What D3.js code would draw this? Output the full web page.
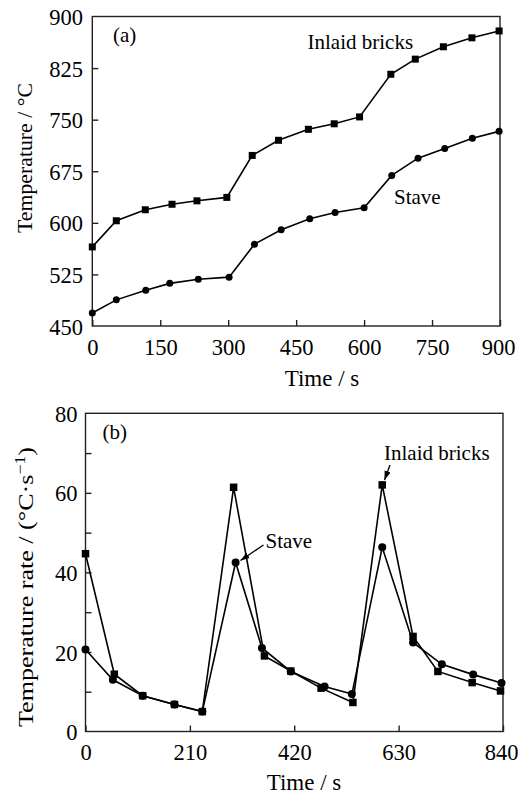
<!DOCTYPE html>
<html><head><meta charset="utf-8">
<script src="https://cdn.jsdelivr.net/npm/d3@7"></script>
<style>body{margin:0;background:#fff}svg{display:block}text{font-family:"Liberation Serif","DejaVu Serif",serif;fill:#000}</style>
</head><body>
<svg id="c" width="518" height="796"></svg>
<script>
// ---- Chart (a): temperature vs time ----
const aBricksTime = [0, 53, 117, 176, 231, 297, 353, 411, 477, 534, 590, 659, 713, 775, 838, 898];
const aBricksTemp = [565, 603, 619, 627, 632, 637, 698, 720, 736, 744, 754, 816, 838, 856, 869, 879];
const aStaveTime  = [0, 53, 118, 171, 234, 302, 358, 417, 480, 536, 600, 661, 719, 778, 839, 898];
const aStaveTemp  = [469, 488, 502, 512, 518, 521, 569, 590, 606, 615, 622, 669, 694, 708, 723, 733];
const aXTicks = [0, 150, 300, 450, 600, 750, 900];
const aYTicks = [450, 525, 600, 675, 750, 825, 900];

// ---- Chart (b): temperature rate vs time ----
const bBricksTime = [0, 58, 115, 179, 235, 298, 360, 413, 474, 538, 597, 659, 709, 778, 835];
const bBricksRate = [44.7, 14.4, 9.0, 6.8, 5.0, 61.4, 19.0, 15.2, 10.9, 7.3, 62.0, 23.9, 15.1, 12.3, 10.2];
const bStaveTime  = [0, 55, 115, 179, 235, 302, 355, 413, 481, 536, 597, 659, 717, 780, 837];
const bStaveRate  = [20.6, 13.0, 9.0, 6.8, 5.0, 42.5, 21.0, 15.1, 11.3, 9.4, 46.3, 22.4, 16.9, 14.3, 12.2];
const bXTicks = [0, 210, 420, 630, 840];
const bYLabels = [0, 20, 40, 60, 80];
const bYTicks = [0, 10, 20, 30, 40, 50, 60, 70, 80];

const svg = d3.select("#c");
const defs = svg.append("defs");
defs.append("marker").attr("id","ah").attr("viewBox","0 0 10 10").attr("refX",10).attr("refY",5)
  .attr("markerWidth",7).attr("markerHeight",7).attr("orient","auto")
  .append("path").attr("d","M0,1.5L10,5L0,8.5Z").attr("fill","#000");

function panel(o){
  const g = svg.append("g");
  const x = d3.scaleLinear().domain(o.xd).range(o.xr);
  const y = d3.scaleLinear().domain(o.yd).range(o.yr);
  g.append("rect").attr("x",o.xr[0]).attr("y",o.yr[1]).attr("width",o.xr[1]-o.xr[0]).attr("height",o.yr[0]-o.yr[1])
    .attr("fill","none").attr("stroke","#222").attr("stroke-width",1.4);
  const xa = g.append("g").attr("transform",`translate(0,${o.yr[0]})`)
    .call(d3.axisBottom(x).tickValues(o.xt).tickSizeInner(-6).tickSizeOuter(0).tickPadding(13).tickFormat(d3.format("d")));
  xa.select(".domain").remove();
  xa.selectAll("line").attr("stroke","#222").attr("stroke-width",1.4);
  xa.selectAll("text").attr("font-size",22.5).attr("font-family","Liberation Serif")
    .attr("dx",(d,i,n)=> i===n.length-1 ? -2 : 0);
  const ya = g.append("g").attr("transform",`translate(${o.xr[0]},0)`)
    .call(d3.axisLeft(y).tickValues(o.yt).tickSizeInner(-6).tickSizeOuter(0).tickFormat(""));
  ya.select(".domain").remove();
  ya.selectAll("line").attr("stroke","#222").attr("stroke-width",1.4);
  const yl = g.append("g").attr("transform",`translate(${o.ylx},0)`)
    .call(d3.axisLeft(y).tickValues(o.yl).tickSize(0).tickPadding(0).tickFormat(d3.format("d")));
  yl.select(".domain").remove();
  yl.selectAll("text").attr("font-size",22.5).attr("font-family","Liberation Serif").attr("dy","0.36em");
  o.series.forEach(s=>{
    const pts = s.t.map((t,i)=>[t,s.v[i]]);
    g.append("path").datum(pts).attr("fill","none").attr("stroke","#000").attr("stroke-width",1.6)
      .attr("d", d3.line().x(d=>x(d[0])).y(d=>y(d[1])));
    if(s.m==="sq"){
      g.selectAll(null).data(pts).enter().append("rect")
        .attr("x",d=>x(d[0])-s.sz/2).attr("y",d=>y(d[1])-s.sz/2).attr("width",s.sz).attr("height",s.sz).attr("fill","#000");
    } else {
      g.selectAll(null).data(pts).enter().append("circle")
        .attr("cx",d=>x(d[0])).attr("cy",d=>y(d[1])).attr("r",s.sz/2).attr("fill","#000");
    }
  });
  return {g,x,y};
}

const A = panel({xd:[0,900], xr:[92.3,500], yd:[450,900], yr:[326,16.5], xt:aXTicks, yt:aYTicks.slice(1,-1), yl:aYTicks, ylx:83,
  series:[{t:aBricksTime,v:aBricksTemp,m:"sq",sz:7},{t:aStaveTime,v:aStaveTemp,m:"ci",sz:7}]});
const B = panel({xd:[0,840], xr:[85.5,503], yd:[0,80], yr:[731.5,413.3], xt:bXTicks, yt:bYTicks.slice(1,-1), yl:bYLabels, ylx:77.5,
  series:[{t:bBricksTime,v:bBricksRate,m:"sq",sz:7.5},{t:bStaveTime,v:bStaveRate,m:"ci",sz:8}]});

svg.append("text").attr("x",322).attr("y",386).attr("text-anchor","middle").attr("font-size",23).text("Time / s");
svg.append("text").attr("x",304).attr("y",790).attr("text-anchor","middle").attr("font-size",23).text("Time / s");
svg.append("text").attr("transform","translate(32,158) rotate(-90)").attr("text-anchor","middle").attr("font-size",22)
  .attr("textLength",150).attr("lengthAdjust","spacingAndGlyphs").text("Temperature / °C");
const t2 = svg.append("text").attr("transform","translate(33,587) rotate(-90)").attr("text-anchor","middle").attr("font-size",22)
  .attr("textLength",280).attr("lengthAdjust","spacingAndGlyphs");
t2.append("tspan").text("Temperature rate / (°C·s");
t2.append("tspan").attr("dy",-8).attr("font-size",15).text("−1");
t2.append("tspan").attr("dy",8).text(")");

function lab(x,y,s,t){ svg.append("text").attr("x",x).attr("y",y).attr("font-size",s).text(t); }
lab(113,42,21,"(a)");
lab(307.5,49,21,"Inlaid bricks");
lab(394,204,21,"Stave");
lab(102.5,439,21,"(b)");
lab(384,460,21,"Inlaid bricks");
lab(265.5,548,21,"Stave");
svg.append("line").attr("x1",263.5).attr("y1",545).attr("x2",240.5).attr("y2",560.5).attr("stroke","#000").attr("stroke-width",1.3).attr("marker-end","url(#ah)");
svg.append("line").attr("x1",390).attr("y1",465).attr("x2",384.5).attr("y2",480).attr("stroke","#000").attr("stroke-width",1.3).attr("marker-end","url(#ah)");
</script>
</body></html>
